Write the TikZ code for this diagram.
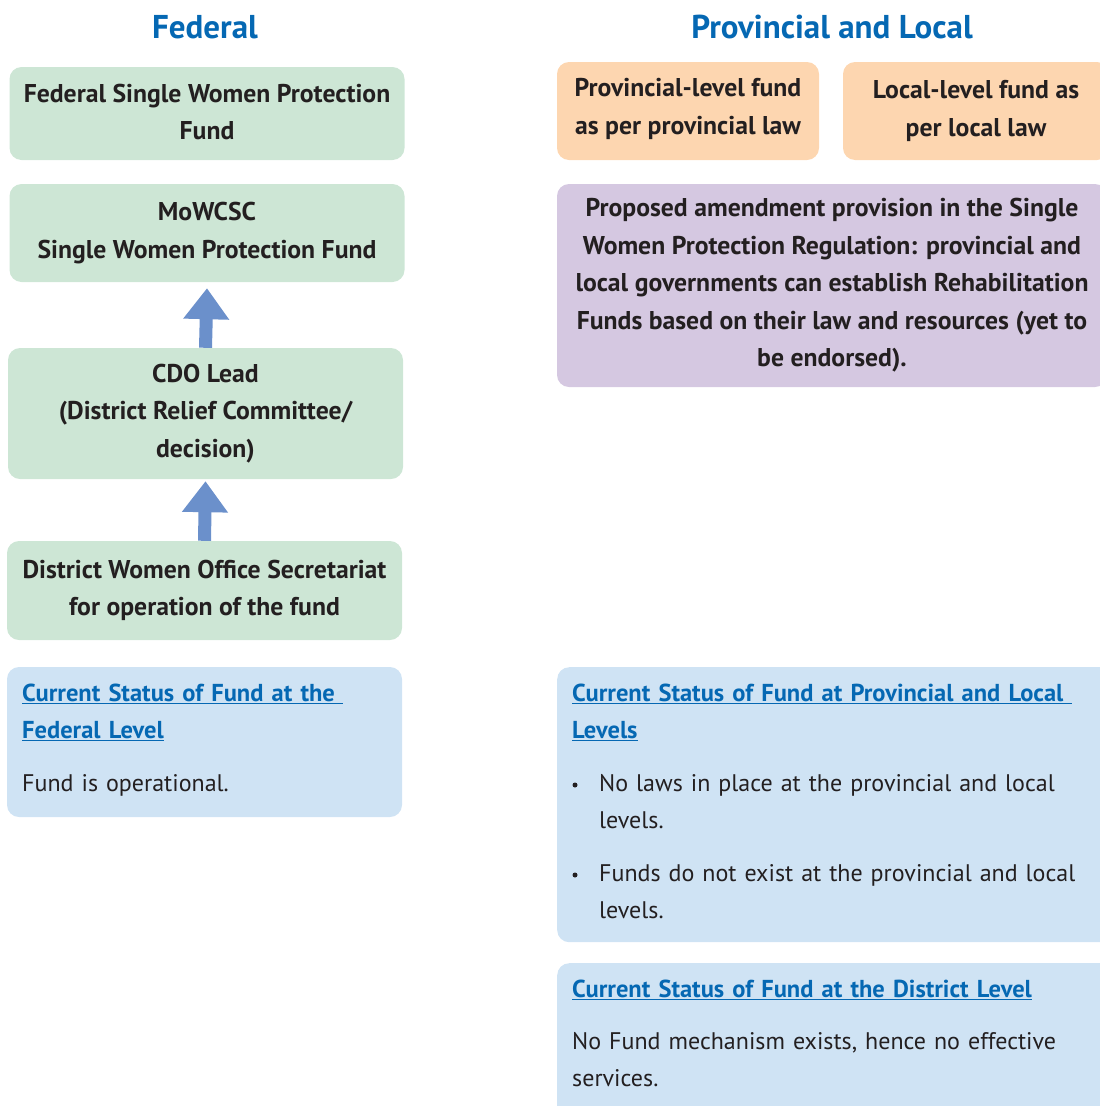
\documentclass[tikz,border=0pt]{standalone}
\usepackage{fontspec}
\setmainfont{PT Sans}
\usetikzlibrary{arrows.meta,calc}

\definecolor{boxgreen}{HTML}{CDE6D5}
\definecolor{boxorange}{HTML}{FDD6B0}
\definecolor{boxpurple}{HTML}{D5C8E1}
\definecolor{boxblue}{HTML}{CFE3F4}
\definecolor{flowarrow}{HTML}{6B90CB}
\definecolor{headblue}{HTML}{0568B3}
\definecolor{inktext}{HTML}{231F20}

\tikzset{
  coltitle/.style={font=\fontsize{33}{37}\selectfont\bfseries, text=headblue, inner sep=0pt},
  panel/.style={rounded corners=12pt, inner sep=0pt, align=center, text=inktext,
    font=\fontsize{25.7}{37.5}\selectfont\bfseries},
  greenbox/.style={panel, fill=boxgreen, minimum width=395pt},
  orangebox/.style={panel, fill=boxorange, minimum height=98pt},
  purplebox/.style={panel, fill=boxpurple},
  bluebox/.style={panel, fill=boxblue},
  linkhead/.style={anchor=base west, inner sep=0pt, text=headblue, align=left,
    font=\fontsize{24.5}{37.5}\selectfont\bfseries},
  bodytext/.style={anchor=base west, inner sep=0pt, text=inktext, align=left,
    font=\fontsize{24}{37.5}\selectfont},
  dotmark/.style={circle, fill=inktext, inner sep=0pt, minimum size=5pt},
  uparrow/.style={flowarrow, line width=13pt, -{Triangle[width=44pt,length=31pt]}},
}
\newcommand{\linkline}[1]{\underline{#1}}

\begin{document}
\begin{tikzpicture}[x=1pt,y=-1pt]
\useasboundingbox (0,0) rectangle (1100,1106);

% column headings
\node[coltitle] (tfed) at (205,27) {Federal};
\node[coltitle] (tprov) at (832,27) {Provincial and Local};

% federal chain
\node[greenbox, minimum height=93pt] (fswpf) at (207,113.5)
  {Federal Single Women Protection\\Fund\vphantom{\raisebox{-3pt}{F}}};
\node[greenbox, minimum height=98pt] (mowcsc) at (207,233)
  {MoWCSC\\Single Women Protection Fund};
\node[greenbox, minimum height=131pt] (cdo) at (205.5,413.5)
  {CDO Lead\\(District Relief Committee/\\decision)};
\node[greenbox, minimum height=99pt] (dwo) at (204.5,590.5)
  {District Women Office Secretariat\\for operation of the fund};

\draw[uparrow] (cdo.north) -- ($(mowcsc.south)+(0,6)$);
\draw[uparrow] (dwo.north) -- ($(cdo.south)+(0,2)$);

% federal status
\node[bluebox, minimum width=395pt, minimum height=150pt] (fedstat) at (204.5,742) {};
\node[linkhead, text width=370pt] (fedhead) at (22,701)
  {\linkline{Current Status of Fund at the\ }\\\linkline{Federal Level}};
\node[bodytext, text width=370pt] (fedbody) at (22,791) {Fund is operational.};

% provincial and local funds
\node[orangebox, minimum width=262pt] (provfund) at (688,111)
  {Provincial-level fund\\as per provincial law\vphantom{\raisebox{-4pt}{p}}};
\node[orangebox, minimum width=266pt] (localfund) at (976,111)
  {Local-level fund as\\per local law};
\node[purplebox, minimum width=550pt, minimum height=203pt] (amend) at (832,285.5)
  {Proposed amendment provision in the Single\\Women Protection Regulation: provincial and\\local governments can establish Rehabilitation\\Funds based on their law and resources (yet to\\be endorsed).};

% provincial and local status
\node[bluebox, minimum width=560pt, minimum height=275pt, anchor=north west] (provstat) at (557,667) {};
\node[linkhead, text width=520pt] (provhead) at (572,701)
  {\linkline{Current Status of Fund at Provincial and Local\ }\\\linkline{Levels}};
\node[dotmark] (bulA) at (575,785) {};
\node[bodytext, text width=480pt] (itemA) at (599,791)
  {No laws in place at the provincial and local\\levels.};
\node[dotmark] (bulB) at (575,875) {};
\node[bodytext, text width=480pt] (itemB) at (599,881)
  {Funds do not exist at the provincial and local\\levels.};

% district status
\node[bluebox, minimum width=560pt, minimum height=170pt, anchor=north west] (diststat) at (557,963) {};
\node[linkhead, text width=520pt] (disthead) at (572,997)
  {\linkline{Current Status of Fund at the District Level}};
\node[bodytext, text width=520pt] (distbody) at (572,1049)
  {No Fund mechanism exists, hence no effective\\services.};
\end{tikzpicture}
\end{document}
